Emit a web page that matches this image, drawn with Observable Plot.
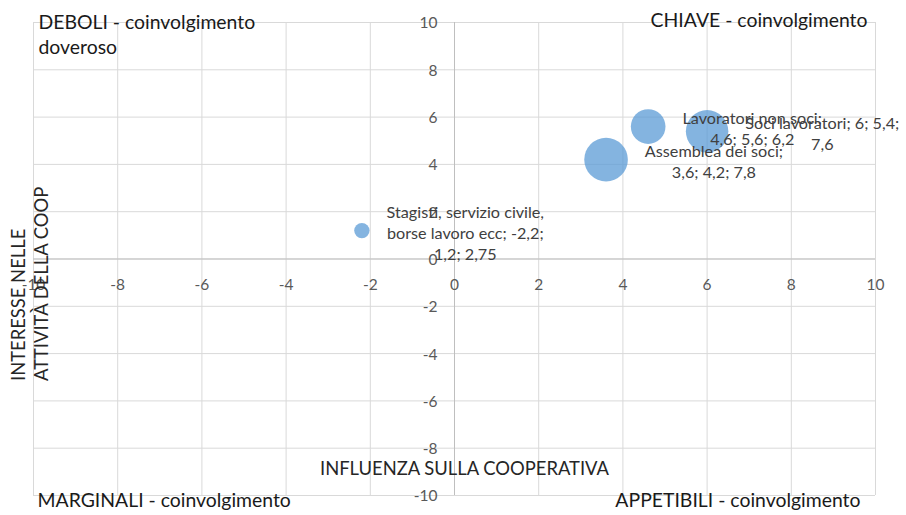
<!DOCTYPE html>
<html><head><meta charset="utf-8">
<script src="https://cdn.jsdelivr.net/npm/d3@7"></script>
<script src="https://cdn.jsdelivr.net/npm/@observablehq/plot@0.6"></script>
<style>body{margin:0;background:#fff;}</style>
</head><body><div id="chart"></div>
<script>
// ---- data ----
const categories = ["Stagisti, servizio civile, borse lavoro ecc", "Lavoratori non soci", "Soci lavoratori", "Assemblea dei soci"];
const influenza = [-2.2, 4.6, 6, 3.6];
const interesse = [1.2, 5.6, 5.4, 4.2];
const dimensione = [2.75, 6.2, 7.6, 7.8];
const labels = [
  "Stagisti, servizio civile,\nborse lavoro ecc; -2,2;\n1,2; 2,75",
  "Lavoratori non soci;\n4,6; 5,6; 6,2",
  "Soci lavoratori; 6; 5,4;\n7,6",
  "Assemblea dei soci;\n3,6; 4,2; 7,8"
];
const ticks = [-10, -8, -6, -4, -2, 0, 2, 4, 6, 8, 10];
const xTitle = "INFLUENZA SULLA COOPERATIVA";
const yTitle = "INTERESSE NELLE\nATTIVITÀ DELLA COOP";
const quadrants = ["DEBOLI - coinvolgimento\ndoveroso", "CHIAVE - coinvolgimento", "MARGINALI - coinvolgimento", "APPETIBILI - coinvolgimento"];

// ---- layout ----
const W = 906, H = 515;
const mL = 33, mR = 31, mT = 22, mB = 20;
const rMax = 21.8;
const FONT = "Lato, 'Open Sans', sans-serif";
const labelSize = 16.2;
const tickSize = 15.5;
const titleSize = 18.4;
const quadSize = 19.4;
const canvas = document.createElement("canvas");
const ctx = canvas.getContext("2d");
function measure(lines) {
  ctx.font = `${labelSize}px Lato`;
  return Math.max(...lines.map(l => ctx.measureText(l).width));
}
const rows = categories.map((c, i) => ({name: c, x: influenza[i], y: interesse[i], s: dimensione[i], label: labels[i]}));
const rDomain = [0, d3.max(dimensione)];
const rPx = d3.scaleLinear(rDomain, [0, rMax]);

const labelMarks = rows.map(d => Plot.text([d], {
  x: "x", y: "y", text: "label",
  dx: rPx(d.s) + 17 + measure(d.label.split("\n")) / 2, dy: 1.2,
  textAnchor: "middle", lineAnchor: "middle", lineHeight: 21 / labelSize,
  fontSize: labelSize, fill: "#404040"
}));

const chart = Plot.plot({
  width: W, height: H,
  marginLeft: mL, marginRight: mR, marginTop: mT, marginBottom: mB,
  style: {fontFamily: FONT, background: "#fff", overflow: "visible"},
  x: {domain: [-10, 10], axis: null},
  y: {domain: [-10, 10], axis: null},
  r: {type: "linear", domain: rDomain, range: [0, rMax]},
  marks: [
    Plot.gridX(ticks, {stroke: "#d9d9d9", strokeOpacity: 1}),
    Plot.gridY(ticks, {stroke: "#d9d9d9", strokeOpacity: 1}),
    Plot.ruleX([0], {stroke: "#bfbfbf"}),
    Plot.ruleY([0], {stroke: "#bfbfbf"}),
    Plot.text(ticks, {x: d => d, y: 0, dy: 26, text: d => String(d), fontSize: tickSize, fill: "#595959"}),
    Plot.text(ticks, {x: 0, y: d => d, dx: -17, dy: 1, text: d => String(d), textAnchor: "end", fontSize: tickSize, fill: "#595959"}),
    Plot.dot(rows, {x: "x", y: "y", r: "s", fill: "#5b9bd5", fillOpacity: 0.75, stroke: null}),
    ...labelMarks,
    Plot.text([xTitle], {frameAnchor: "bottom", dx: 10, dy: -26, lineAnchor: "middle", text: d => d, fontSize: titleSize, fill: "#262626"}),
    Plot.text([yTitle], {frameAnchor: "left", dx: -4.5, dy: 122, rotate: -90, textAnchor: "start", lineAnchor: "middle", lineHeight: 23 / titleSize, text: d => d, fontSize: titleSize, fill: "#262626"}),
    Plot.text([quadrants[0]], {frameAnchor: "top-left", dx: 5, dy: 10.5, textAnchor: "start", lineAnchor: "middle", lineHeight: 25 / quadSize, text: d => d, fontSize: quadSize, fill: "#1a1a1a"}),
    Plot.text([quadrants[1]], {frameAnchor: "top-right", dx: -8, dy: -2, textAnchor: "end", lineAnchor: "middle", text: d => d, fontSize: quadSize, fill: "#1a1a1a"}),
    Plot.text([quadrants[2]], {frameAnchor: "bottom-left", dx: 4, dy: 5, textAnchor: "start", lineAnchor: "middle", text: d => d, fontSize: quadSize, fill: "#1a1a1a"}),
    Plot.text([quadrants[3]], {frameAnchor: "bottom-right", dx: -15, dy: 5, textAnchor: "end", lineAnchor: "middle", text: d => d, fontSize: quadSize, fill: "#1a1a1a"})
  ]
});
document.getElementById("chart").appendChild(chart);
</script>
</body></html>
